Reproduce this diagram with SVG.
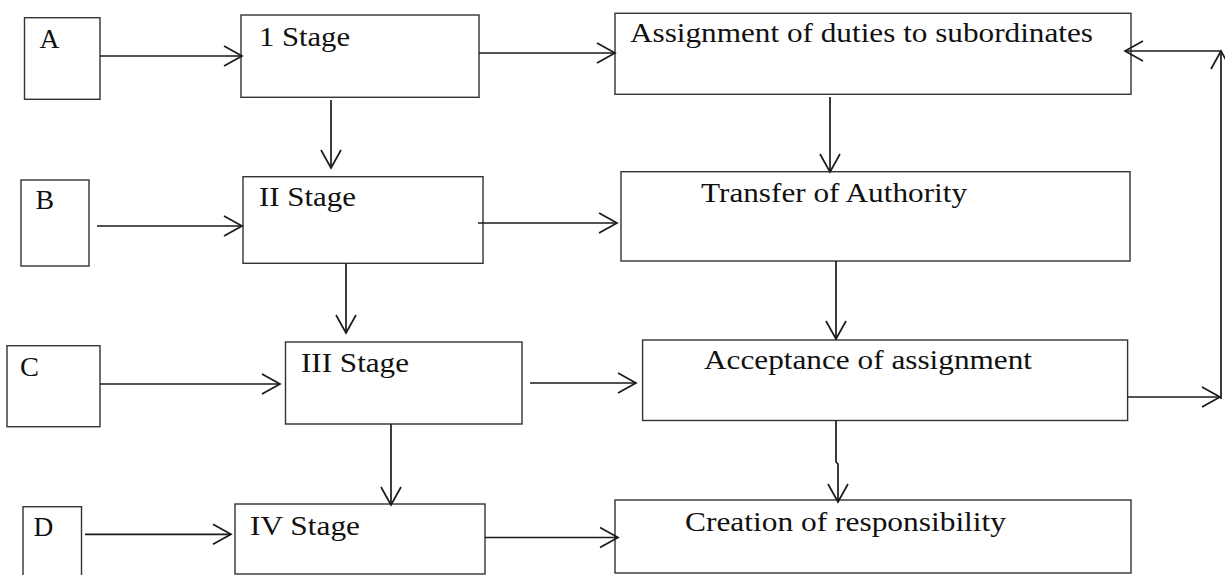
<svg xmlns="http://www.w3.org/2000/svg" width="1225" height="575" viewBox="0 0 1225 575">
<defs>
<style>
.box{fill:#fff;stroke:#333;stroke-width:1.4}
.lbl{font-family:"Liberation Serif","Times New Roman",serif;font-size:28px;fill:#111}
.con{fill:none;stroke:#1a1a1a;stroke-width:1.7}
</style>
<marker id="ah" markerUnits="userSpaceOnUse" markerWidth="22" markerHeight="24" viewBox="0 0 22 24" refX="20" refY="12" orient="auto">
<path d="M2,2 L20,12 L2,22" fill="none" stroke="#1a1a1a" stroke-width="1.7"/>
</marker>
</defs>
<rect width="1225" height="575" fill="#fff"/>
<g id="nodeA"><rect class="box" x="24.5" y="17.7" width="75.5" height="81.6"/><text class="lbl" x="39.5" y="47.5" textLength="20" lengthAdjust="spacingAndGlyphs">A</text></g>
<g id="stage1"><rect class="box" x="241" y="15" width="238" height="82.3"/><text class="lbl" x="259" y="45.7" textLength="91" lengthAdjust="spacingAndGlyphs">1 Stage</text></g>
<g id="assign"><rect class="box" x="615" y="13.3" width="516" height="81"/><text class="lbl" x="630" y="41.7" textLength="463" lengthAdjust="spacingAndGlyphs">Assignment of duties to subordinates</text></g>
<g id="nodeB"><rect class="box" x="21" y="180" width="68" height="86"/><text class="lbl" x="35.6" y="209" textLength="18.6" lengthAdjust="spacingAndGlyphs">B</text></g>
<g id="stage2"><rect class="box" x="243" y="176.7" width="240" height="86.6"/><text class="lbl" x="259" y="205.7" textLength="97" lengthAdjust="spacingAndGlyphs">II Stage</text></g>
<g id="transfer"><rect class="box" x="621" y="171.7" width="509" height="89.3"/><text class="lbl" x="701" y="202.3" textLength="266" lengthAdjust="spacingAndGlyphs">Transfer of Authority</text></g>
<g id="nodeC"><rect class="box" x="7" y="345.7" width="93" height="81"/><text class="lbl" x="20" y="375.7" textLength="19" lengthAdjust="spacingAndGlyphs">C</text></g>
<g id="stage3"><rect class="box" x="285.5" y="342" width="236.5" height="82"/><text class="lbl" x="301" y="371.7" textLength="108" lengthAdjust="spacingAndGlyphs">III Stage</text></g>
<g id="accept"><rect class="box" x="642.6" y="340" width="485" height="80.5"/><text class="lbl" x="704" y="369" textLength="328" lengthAdjust="spacingAndGlyphs">Acceptance of assignment</text></g>
<g id="nodeD"><rect class="box" x="23" y="506.7" width="58.5" height="80"/><text class="lbl" x="33.6" y="536" textLength="19.8" lengthAdjust="spacingAndGlyphs">D</text></g>
<g id="stage4"><rect class="box" x="235" y="504" width="250" height="70"/><text class="lbl" x="250" y="535" textLength="110" lengthAdjust="spacingAndGlyphs">IV Stage</text></g>
<g id="creation"><rect class="box" x="615" y="500" width="516" height="73"/><text class="lbl" x="685" y="530.5" textLength="321" lengthAdjust="spacingAndGlyphs">Creation of responsibility</text></g>
<g id="connectors">
<line class="con" x1="100" y1="56" x2="242" y2="56" marker-end="url(#ah)"/>
<line class="con" x1="479" y1="53" x2="615" y2="53" marker-end="url(#ah)"/>
<line class="con" x1="331" y1="100" x2="331" y2="168" marker-end="url(#ah)"/>
<line class="con" x1="97" y1="226" x2="242" y2="226" marker-end="url(#ah)"/>
<line class="con" x1="478" y1="223" x2="617" y2="223" marker-end="url(#ah)"/>
<line class="con" x1="830" y1="97" x2="830" y2="172" marker-end="url(#ah)"/>
<line class="con" x1="346" y1="263.3" x2="346" y2="333" marker-end="url(#ah)"/>
<line class="con" x1="100" y1="384" x2="280" y2="384" marker-end="url(#ah)"/>
<line class="con" x1="530" y1="383" x2="636" y2="383" marker-end="url(#ah)"/>
<line class="con" x1="836" y1="261" x2="836" y2="339" marker-end="url(#ah)"/>
<line class="con" x1="391" y1="424" x2="391" y2="505" marker-end="url(#ah)"/>
<line class="con" x1="85" y1="534.3" x2="231" y2="534.3" marker-end="url(#ah)"/>
<line class="con" x1="485" y1="537.5" x2="618" y2="537.5" marker-end="url(#ah)"/>
<path class="con" d="M836,420.5 L836,462 L838,464 L838,502" marker-end="url(#ah)"/>
<line class="con" x1="1127" y1="397" x2="1220" y2="397" marker-end="url(#ah)"/>
<line class="con" x1="1221" y1="399" x2="1221" y2="51" marker-end="url(#ah)"/>
<line class="con" x1="1221" y1="51" x2="1125" y2="51" marker-end="url(#ah)"/>
</g>
</svg>
